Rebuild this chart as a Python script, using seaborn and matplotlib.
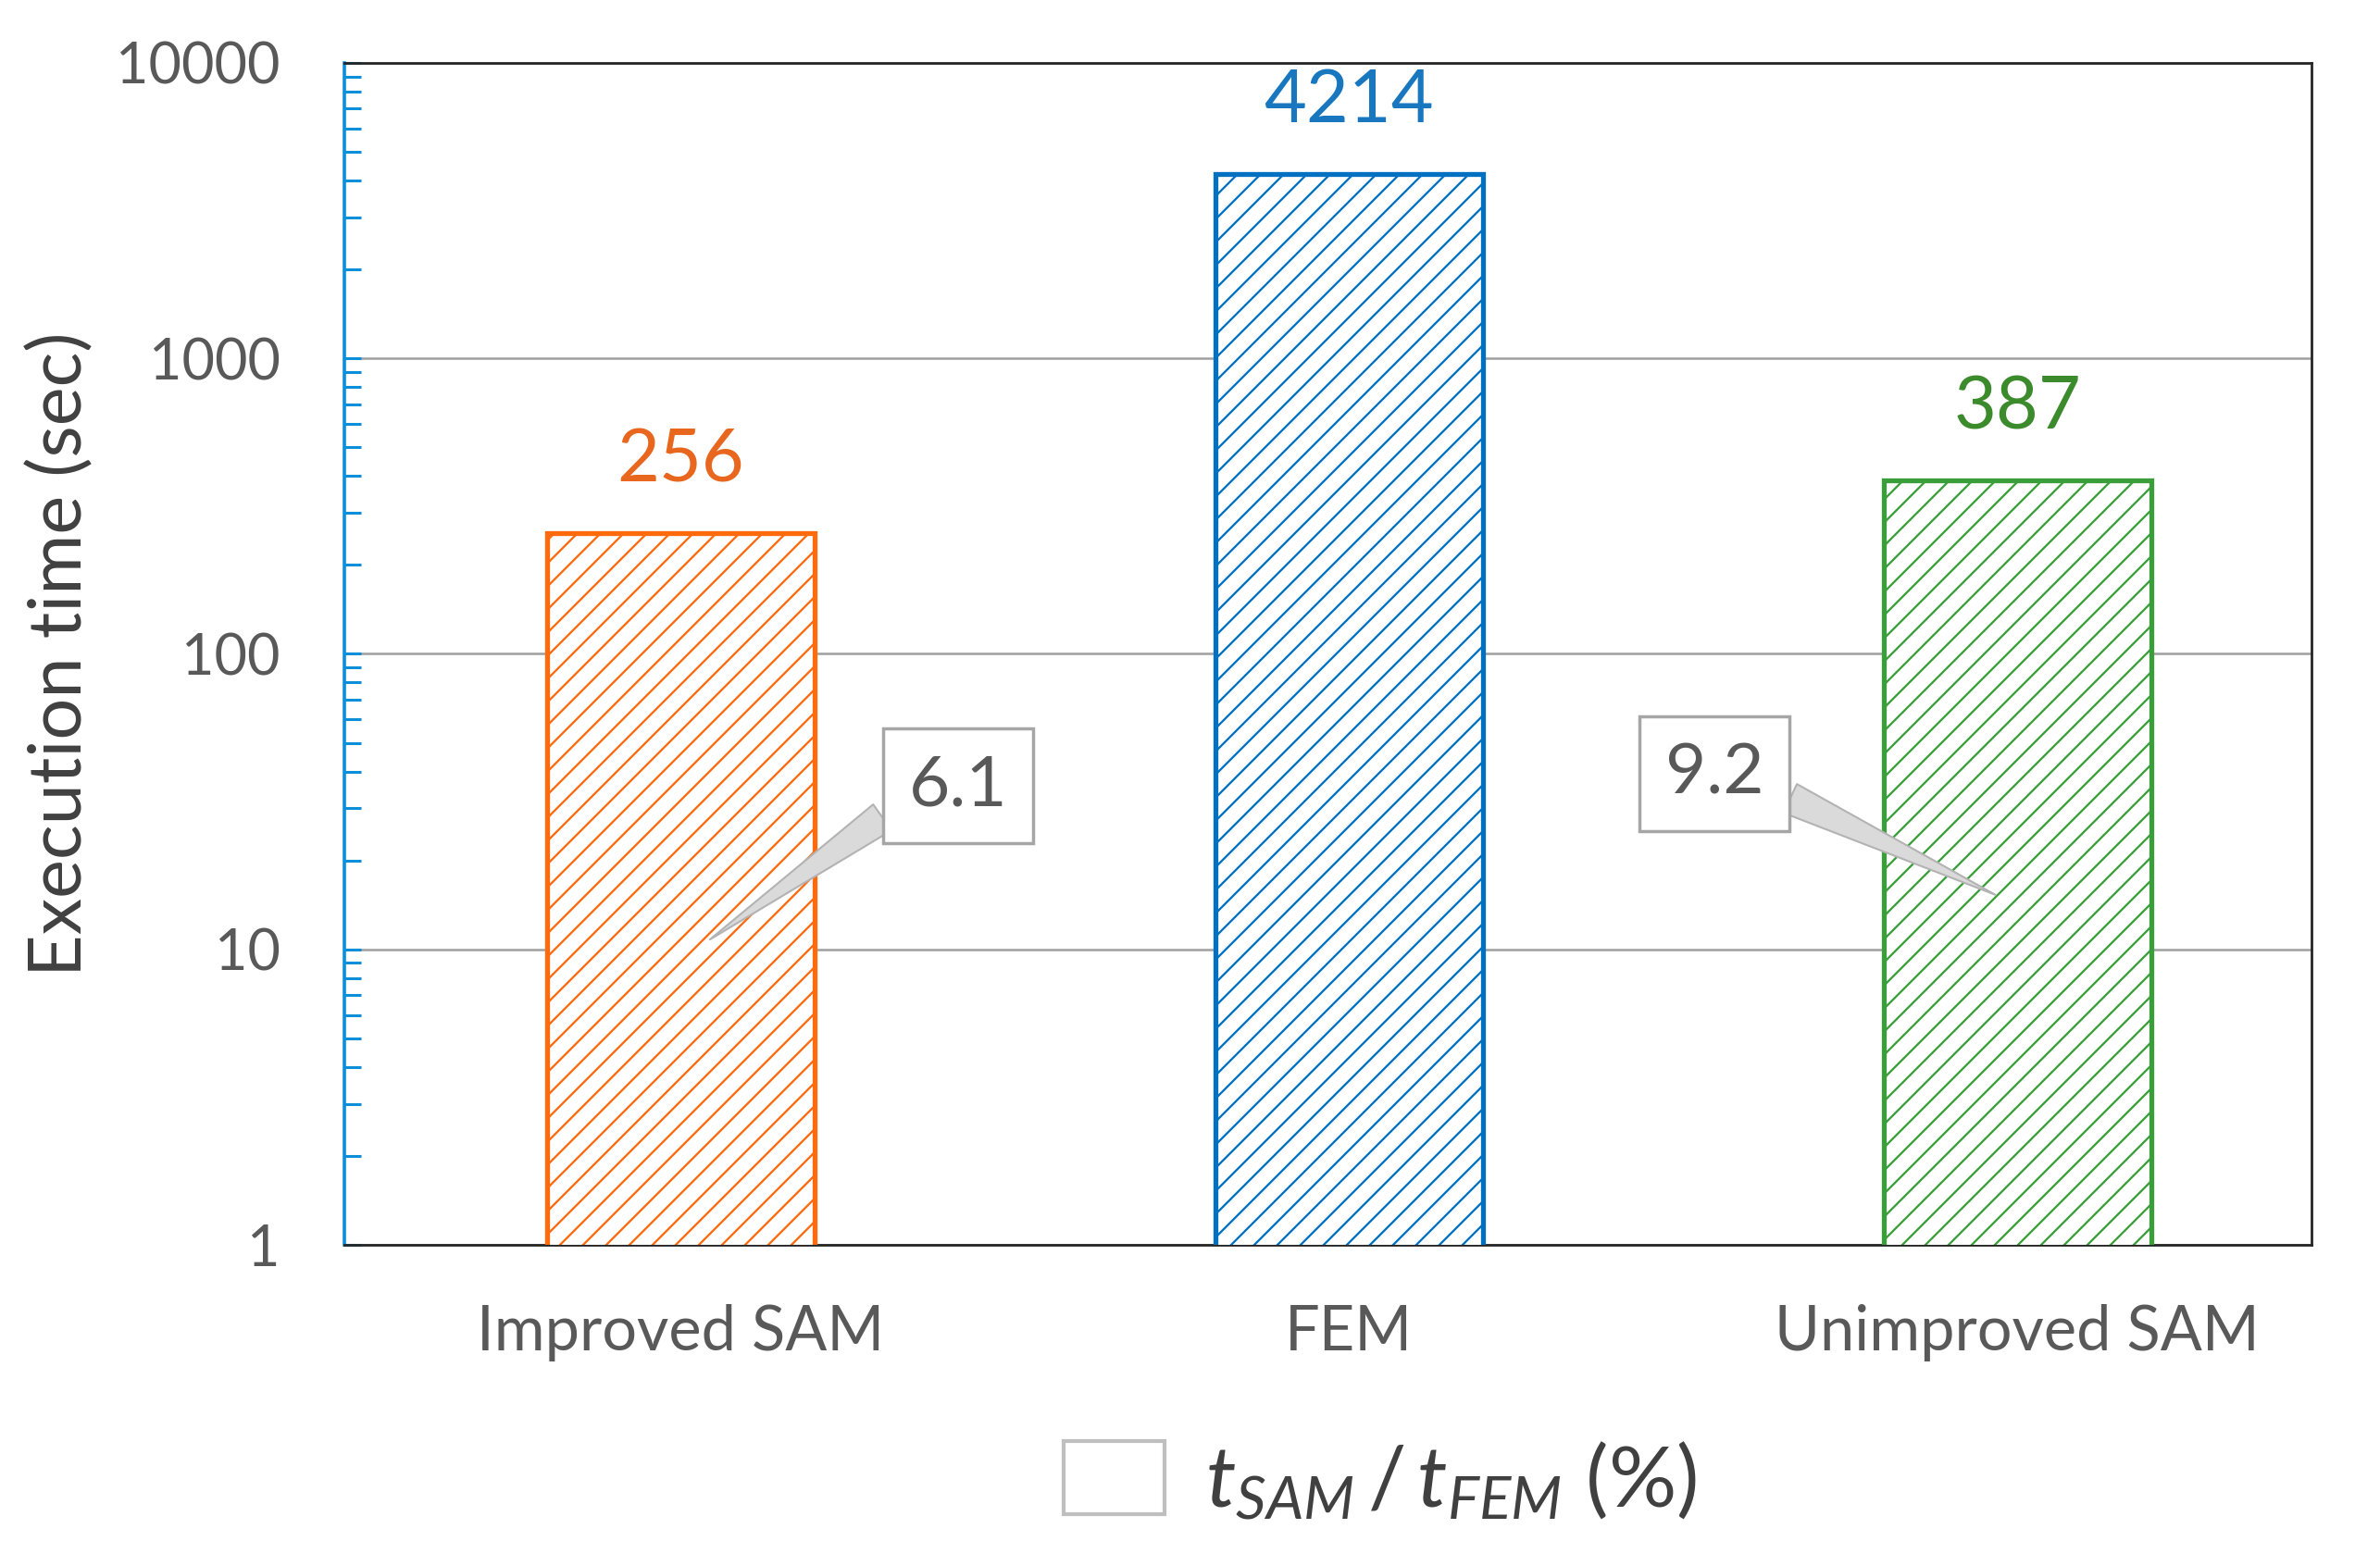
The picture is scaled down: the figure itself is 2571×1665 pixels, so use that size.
import matplotlib
matplotlib.use('Agg')
import matplotlib.pyplot as plt
from matplotlib.patches import Patch
from matplotlib.ticker import LogLocator, NullFormatter
import seaborn as sns
import pandas as pd

# ---- data ----
categories = ['Improved SAM', 'FEM', 'Unimproved SAM']
exec_time = [256, 4214, 387]
ratio_labels = ['6.1', None, '9.2']          # t_SAM / t_FEM (%)
ytick_values = [1, 10, 100, 1000, 10000]
ytick_labels = ['1', '10', '100', '1000', '10000']
edge_colors = ['#FF6A0D', '#0070C0', '#3A9F3A']
label_colors = ['#E8661E', '#1877BE', '#3B8A2C']

S = 2 / 3  # point scale (dpi 150)

sns.set_theme(style='white')
plt.rcParams['font.family'] = ['Lato', 'DejaVu Sans']
plt.rcParams['hatch.linewidth'] = 1.1
plt.rcParams['mathtext.fontset'] = 'custom'
plt.rcParams['mathtext.it'] = 'Lato:italic'
plt.rcParams['mathtext.rm'] = 'Lato'

fig = plt.figure(figsize=(2571 / 150, 1665 / 150), dpi=150)
ax = fig.add_axes([0.1447, 0.1922, 0.8265, 0.767])

df = pd.DataFrame({'cat': categories, 'time': exec_time})
sns.barplot(data=df, x='cat', y='time', hue='cat', palette=edge_colors,
            fill=False, width=0.40, linewidth=3.8 * S,
            legend=False, errorbar=None, ax=ax, zorder=3)
ax.set_yscale('log')

for p in ax.patches:
    p.set_hatch('//')
    p.set_facecolor('white')

ax.set_xlim(-0.503, 2.44)
ax.set_ylim(1, 10000)
ax.set_yticks(ytick_values, ytick_labels)
ax.yaxis.set_minor_locator(LogLocator(base=10, subs=range(2, 10), numticks=20))
ax.yaxis.set_minor_formatter(NullFormatter())
ax.tick_params(axis='y', which='both', left=True, direction='in', length=13 * S,
               width=2.2 * S, color='#0A8FD8', pad=50 * S, labelsize=44 * S,
               labelcolor='#595959')
ax.tick_params(axis='x', length=0, pad=46 * S, labelsize=48 * S, labelcolor='#595959')
ax.set_xlabel('')
ax.set_ylabel('Execution time (sec)', fontsize=57 * S, color='#404040')
ax.yaxis.set_label_coords(-0.127, 0.5)

ax.yaxis.grid(True, which='major', color='#A0A0A0', lw=1.8 * S)
ax.yaxis.grid(False, which='minor')
ax.set_axisbelow(True)

for side in ['top', 'right', 'bottom']:
    ax.spines[side].set_color('#262626')
    ax.spines[side].set_linewidth(2.0 * S)
ax.spines['left'].set_color('#0A8FD8')
ax.spines['left'].set_linewidth(2.6 * S)

# value labels
for i, v in enumerate(exec_time):
    ax.annotate(str(v), xy=(i, v), xytext=(0, 40 * S), textcoords='offset points',
                ha='center', va='baseline', fontsize=57 * S, color=label_colors[i])

# callouts (ratio t_SAM/t_FEM)
callout_layout = {0: dict(box=(0.415, 35.7), pt=(0.044, 10.8), rel=(0, 0.3)),
                  2: dict(box=(-0.453, 39.4), pt=(-0.033, 15.3), rel=(1, 0.3))}
for i, lab in enumerate(ratio_labels):
    if lab is None:
        continue
    lay = callout_layout[i]
    ax.annotate(lab, xy=(i + lay['pt'][0], lay['pt'][1]),
                xytext=(i + lay['box'][0], lay['box'][1]), textcoords='data',
                ha='center', va='center', fontsize=55 * S, color='#595959', zorder=5,
                bbox=dict(boxstyle='square,pad=0.36', fc='white', ec='#A6A6A6', lw=2.5 * S),
                arrowprops=dict(arrowstyle='wedge,tail_width=0.45', fc='#DADADA',
                                ec='#B3B3B3', lw=1.5 * S, relpos=lay['rel'],
                                shrinkA=0, shrinkB=0))

handles = [Patch(facecolor='white', edgecolor='#BFBFBF', lw=3 * S)]
fig.legend(handles, [r'$t_{SAM}\,/\,t_{FEM}$ (%)'], loc='center',
           bbox_to_anchor=(1491 / 2571, 1 - 1600 / 1665), frameon=False,
           fontsize=66 * S, handlelength=1.18, handleheight=0.95, handletextpad=0.48,
           labelcolor='#404040')

fig.savefig('out.png', dpi=150)
